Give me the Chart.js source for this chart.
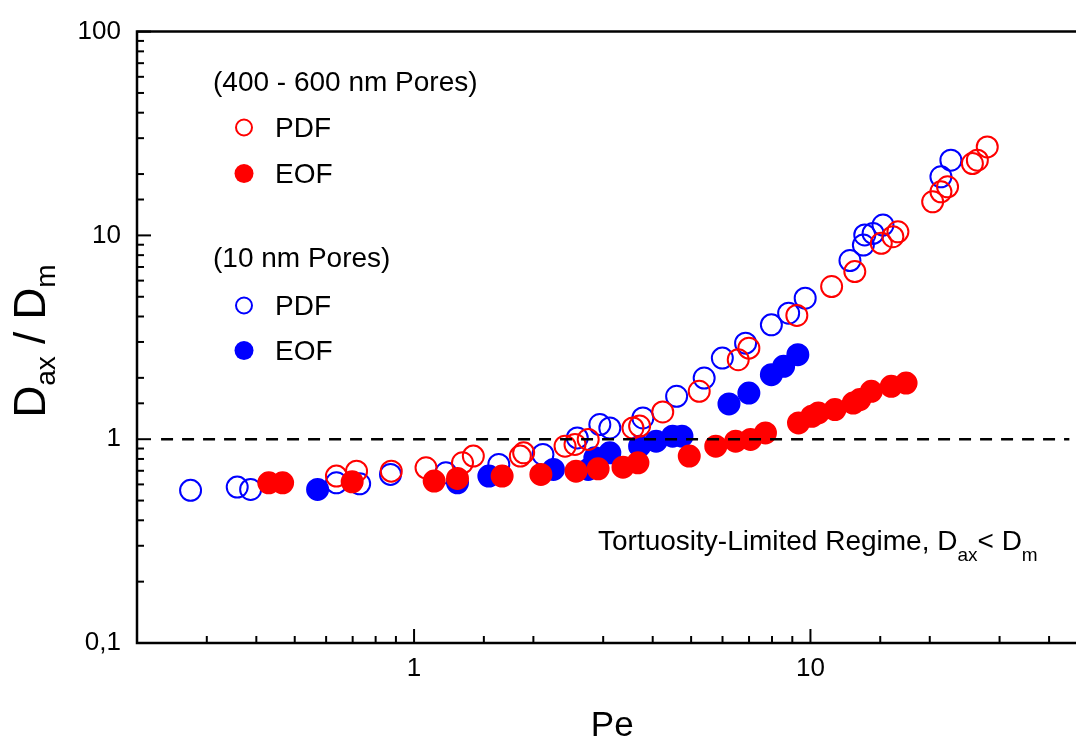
<!DOCTYPE html>
<html>
<head>
<meta charset="utf-8">
<script src="https://cdn.jsdelivr.net/npm/chart.js@4.4.0/dist/chart.umd.min.js"></script>
<style>
  html, body { margin: 0; padding: 0; background: #fff; overflow: hidden; }
  #wrap { width: 1100px; height: 738px; }
  canvas { display: block; }
</style>
</head>
<body>
<div id="wrap"><canvas id="chart" width="1100" height="738"></canvas></div>
<script>
// 400 - 600 nm pores, pressure driven flow
const redPdfPe = [0.637, 0.716, 0.876, 1.072, 1.325, 1.411, 1.854, 1.890, 2.404, 2.547, 2.750, 3.566, 3.707, 4.240, 5.241, 6.574, 6.993, 9.240, 11.31, 12.94, 15.09, 16.14, 16.62, 20.34, 21.34, 22.18, 25.62, 26.37, 27.93];
const redPdfD  = [0.659, 0.697, 0.697, 0.724, 0.766, 0.826, 0.826, 0.857, 0.924, 0.942, 0.997, 1.136, 1.160, 1.360, 1.718, 2.455, 2.798, 4.046, 5.610, 6.642, 9.139, 9.854, 10.42, 14.62, 16.37, 17.31, 22.51, 23.39, 27.18];
// 400 - 600 nm pores, electroosmotic flow
const redEofPe = [0.430, 0.466, 0.698, 1.124, 1.287, 1.668, 2.089, 2.562, 2.913, 3.366, 3.671, 4.946, 5.770, 6.476, 7.062, 7.700, 9.331, 10.08, 10.47, 11.53, 12.82, 13.32, 14.24, 15.99, 17.43];
const redEofD  = [0.611, 0.611, 0.618, 0.623, 0.642, 0.659, 0.672, 0.697, 0.716, 0.729, 0.766, 0.826, 0.924, 0.978, 0.997, 1.074, 1.202, 1.296, 1.345, 1.398, 1.505, 1.564, 1.718, 1.817, 1.886];
// 10 nm pores, pressure driven flow
const bluePdfPe = [0.273, 0.358, 0.387, 0.637, 0.729, 0.872, 1.203, 1.636, 2.114, 2.581, 2.942, 3.118, 3.778, 4.596, 5.394, 5.994, 6.861, 7.970, 8.810, 9.700, 12.58, 13.60, 13.71, 14.39, 15.24, 21.34, 22.61];
const bluePdfD  = [0.561, 0.582, 0.567, 0.611, 0.604, 0.672, 0.684, 0.752, 0.842, 1.015, 1.180, 1.136, 1.271, 1.623, 1.995, 2.500, 2.960, 3.640, 4.150, 4.920, 7.530, 8.970, 10.05, 10.23, 11.24, 19.38, 23.39];
// 10 nm pores, electroosmotic flow
const blueEofPe = [0.571, 1.287, 1.544, 2.247, 2.750, 2.858, 3.118, 3.707, 4.081, 4.491, 4.741, 6.230, 6.993, 7.970, 8.557, 9.294];
const blueEofD  = [0.567, 0.611, 0.659, 0.711, 0.711, 0.810, 0.857, 0.924, 0.978, 1.034, 1.034, 1.489, 1.685, 2.074, 2.277, 2.598];
// D_ax = D_m reference line
const refPe = [0.23, 45];
const refD  = [1, 1];

const xTickVals = [1, 10];
const xTickLabels = ['1', '10'];
const yTickVals = [0.1, 1, 10, 100];
const yTickLabels = ['0,1', '1', '10', '100'];

const FONT = '"Liberation Sans", Arial, sans-serif';
const RED = '#ff0000';
const BLUE = '#0000ff';

const pts = (xs, ys) => xs.map((v, i) => ({ x: v, y: ys[i] }));
const isMajor = v => Math.abs(Math.log10(v) - Math.round(Math.log10(v))) < 1e-6;
const labelFor = (vals, labels) => v => {
    const i = vals.findIndex(t => Math.abs(t - v) / t < 1e-6);
    return i >= 0 ? labels[i] : '';
};

// texte avec indices
function drawRich(ctx, parts, x, y, align) {
    let w = 0;
    parts.forEach(p => { ctx.font = p.size + 'px ' + FONT; w += ctx.measureText(p.t).width; });
    let cx = align === 'center' ? x - w / 2 : x;
    parts.forEach(p => {
        ctx.font = p.size + 'px ' + FONT;
        ctx.fillText(p.t, cx, y + (p.dy || 0));
        cx += ctx.measureText(p.t).width;
    });
}

const framePlugin = {
    id: 'frame',
    afterDatasetsDraw(chart) {
        const { ctx, chartArea: a, scales: { x, y } } = chart;
        ctx.save();
        ctx.strokeStyle = '#000';
        ctx.lineWidth = 2;
        x.ticks.forEach(t => {
            const px = x.getPixelForValue(t.value);
            const len = isMajor(t.value) ? 14 : 7;
            ctx.beginPath();
            ctx.moveTo(px, a.bottom);
            ctx.lineTo(px, a.bottom - len);
            ctx.stroke();
        });
        y.ticks.forEach(t => {
            const py = y.getPixelForValue(t.value);
            const len = isMajor(t.value) ? 14 : 7;
            ctx.beginPath();
            ctx.moveTo(a.left, py);
            ctx.lineTo(a.left + len, py);
            ctx.stroke();
        });
        ctx.lineWidth = 2.5;
        ctx.beginPath();
        ctx.moveTo(a.right, a.top);
        ctx.lineTo(a.left, a.top);
        ctx.lineTo(a.left, a.bottom);
        ctx.lineTo(a.right, a.bottom);
        ctx.stroke();
        ctx.restore();
    },
    afterDraw(chart) {
        const { ctx, chartArea: a } = chart;
        ctx.save();
        ctx.fillStyle = '#000';
        ctx.textBaseline = 'alphabetic';

        // titre axe Y
        ctx.save();
        ctx.translate(45, 341);
        ctx.rotate(-Math.PI / 2);
        drawRich(ctx, [
            { t: 'D', size: 44 }, { t: 'ax', size: 28, dy: 10 },
            { t: ' / D', size: 44 }, { t: 'm', size: 28, dy: 10 }
        ], 0, 0, 'center');
        ctx.restore();

        // titre axe X
        drawRich(ctx, [{ t: 'Pe', size: 35 }], (a.left + a.right) / 2, 736, 'center');

        // légende
        const legend = [
            { head: '(400 - 600 nm Pores)', y: 91 },
            { label: 'PDF', color: RED, fill: false, y: 137 },
            { label: 'EOF', color: RED, fill: true, y: 183 },
            { head: '(10 nm Pores)', y: 267 },
            { label: 'PDF', color: BLUE, fill: false, y: 315 },
            { label: 'EOF', color: BLUE, fill: true, y: 360 }
        ];
        legend.forEach(item => {
            if (item.head) {
                drawRich(ctx, [{ t: item.head, size: 28 }], 213, item.y);
                return;
            }
            ctx.beginPath();
            ctx.arc(244, item.y - 9.5, item.fill ? 9.5 : 8, 0, Math.PI * 2);
            if (item.fill) {
                ctx.fillStyle = item.color;
                ctx.fill();
            } else {
                ctx.strokeStyle = item.color;
                ctx.lineWidth = 2;
                ctx.stroke();
            }
            ctx.fillStyle = '#000';
            drawRich(ctx, [{ t: item.label, size: 28 }], 275, item.y);
        });

        // annotation
        drawRich(ctx, [
            { t: 'Tortuosity-Limited Regime, D', size: 28 }, { t: 'ax', size: 19, dy: 11 },
            { t: '< D', size: 28 }, { t: 'm', size: 19, dy: 11 }
        ], 598, 550);
        ctx.restore();
    }
};

const scatterSet = (xs, ys, color, filled) => ({
    data: pts(xs, ys),
    showLine: false,
    pointStyle: 'circle',
    pointRadius: 10.5,
    pointHoverRadius: 10.5,
    pointBorderWidth: 2,
    pointBorderColor: color,
    pointBackgroundColor: filled ? color : 'rgba(0,0,0,0)',
    borderColor: color,
    backgroundColor: filled ? color : 'rgba(0,0,0,0)'
});

new Chart(document.getElementById('chart'), {
    type: 'scatter',
    data: {
        datasets: [
            {
                data: pts(refPe, refD),
                showLine: true,
                pointRadius: 0,
                borderColor: '#000',
                borderWidth: 2.5,
                borderDash: [12, 9]
            },
            scatterSet(redEofPe, redEofD, RED, true),
            scatterSet(redPdfPe, redPdfD, RED, false),
            scatterSet(blueEofPe, blueEofD, BLUE, true),
            scatterSet(bluePdfPe, bluePdfD, BLUE, false)
        ]
    },
    options: {
        responsive: false,
        devicePixelRatio: 1,
        animation: false,
        layout: { padding: { left: 0, top: 28, right: 9, bottom: 0 } },
        plugins: { legend: { display: false }, tooltip: { enabled: false } },
        scales: {
            x: {
                type: 'logarithmic',
                min: 0.2,
                max: 50,
                grid: { display: false, drawTicks: false },
                border: { display: false },
                ticks: {
                    autoSkip: false,
                    maxRotation: 0,
                    padding: 10,
                    color: '#000',
                    font: { family: FONT, size: 26 },
                    callback: labelFor(xTickVals, xTickLabels)
                },
                afterFit: s => { s.height = 95; }
            },
            y: {
                type: 'logarithmic',
                min: 0.1,
                max: 100,
                grid: { display: false, drawTicks: false },
                border: { display: false },
                ticks: {
                    autoSkip: false,
                    padding: 16,
                    color: '#000',
                    font: { family: FONT, size: 26 },
                    callback: labelFor(yTickVals, yTickLabels)
                },
                afterFit: s => { s.width = 137; }
            }
        }
    },
    plugins: [framePlugin]
});
</script>
</body>
</html>
